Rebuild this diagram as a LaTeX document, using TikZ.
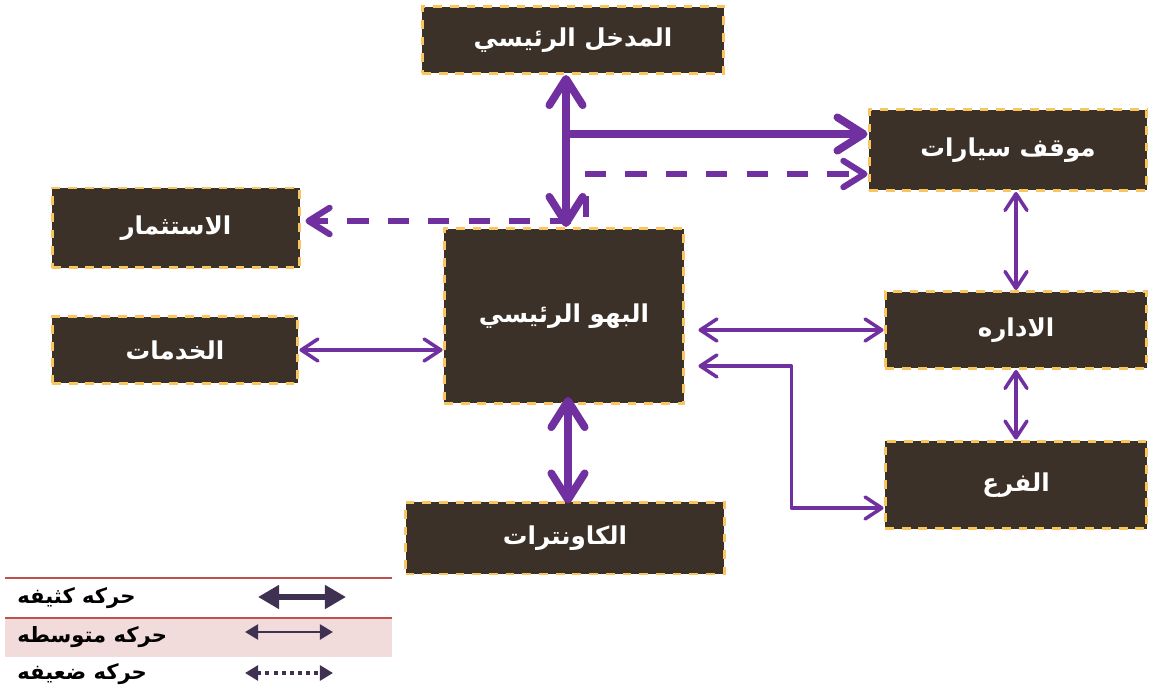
\documentclass[tikz,border=0pt]{standalone}
\usepackage{fontspec}
\usepackage{xcolor}
\usepackage{tikz}
\usetikzlibrary{arrows.meta, positioning}
\TeXXeTstate=1
\newfontfamily\arabicfont[Script=Arabic]{DejaVu Sans}
\definecolor{caixa}{HTML}{3B3128}
\definecolor{borda}{HTML}{F9C55E}
\definecolor{roxo}{HTML}{7030A0}
\definecolor{roxoesc}{HTML}{3F3151}
\definecolor{linha}{HTML}{C0504D}
\definecolor{faixa}{HTML}{F2DCDB}
\tikzset{
  sala/.style={draw=borda, line width=1.7pt, dash pattern=on 5pt off 4.5pt, fill=caixa, text=white, inner sep=0pt, font=\arabicfont\bfseries\fontsize{14}{16}\selectfont},
  forte/.style={roxo, line width=4.4pt, line cap=round, line join=round},
  media/.style={roxo, line width=2pt, line join=round},
  fraca/.style={roxo, line width=3.5pt, dash pattern=on 12pt off 11pt},
  pforte/.style={-{Straight Barb[length=15pt, width=19pt, round]}},
  pfortedupla/.style={{Straight Barb[length=15pt, width=19pt, round]}-{Straight Barb[length=15pt, width=19pt, round]}},
  pfraca/.style={-{Straight Barb[length=12pt, width=15pt, round]}},
  pmediadupla/.style={{Straight Barb[length=9.5pt, width=12.5pt, round]}-{Straight Barb[length=9.5pt, width=12.5pt, round]}},
  legenda/.style={anchor=west, inner sep=0pt, font=\arabicfont\bfseries\fontsize{12}{14}\selectfont}
}
\begin{document}
\begin{tikzpicture}[x=0.02cm, y=-0.02cm]
        \useasboundingbox (0,0) rectangle (1149,692);
        % Espacos
        \node[sala, minimum width=6.04cm, minimum height=1.34cm] (entrada) at (573,40) {\beginR المدخل الرئيسي\endR};
        \node[sala, minimum width=5.56cm, minimum height=1.62cm] (parque) at (1008,150) {\beginR موقف سيارات\endR};
        \node[sala, minimum width=4.96cm, minimum height=1.60cm] (invest) at (176,228) {\beginR الاستثمار\endR};
        \node[sala, minimum width=4.80cm, minimum height=3.50cm] (hall) at (564,316) {\beginR البهو الرئيسي\endR};
        \node[sala, minimum width=4.92cm, minimum height=1.34cm] (servicos) at (175,350) {\beginR الخدمات\endR};
        \node[sala, minimum width=5.24cm, minimum height=1.54cm] (admin) at (1016,330) {\beginR الاداره\endR};
        \node[sala, minimum width=5.24cm, minimum height=1.76cm] (ramo) at (1016,485) {\beginR الفرع\endR};
        \node[sala, minimum width=6.38cm, minimum height=1.44cm] (balcoes) at (565,538) {\beginR الكاونترات\endR};

        % Movimento forte
        \coordinate (j1) at (566,134);
        \draw[forte, pfortedupla] ([xshift=0.04cm]entrada.south -| hall.north) -- ([xshift=0.04cm]hall.north);
        \draw[forte, pforte] (j1) -- (j1 -| parque.west);
        \draw[forte, pfortedupla, shorten <=-0.16cm, shorten >=-0.06cm] ([xshift=0.08cm]hall.south) -- ([xshift=0.08cm]hall.south |- balcoes.north);

        % Movimento fraco
        \coordinate (t1) at (585,174);
        \coordinate (t2) at (586,196);
        \coordinate (t3) at (586,221);
        \draw[fraca, pfraca] (t1) -- (t1 -| parque.west);
        \draw[fraca, pfraca] (t2) -- (t3) -- ([xshift=0.08cm]t3 -| invest.east);

        % Movimento medio
        \draw[media, pmediadupla] (servicos.east) -- (servicos.east -| hall.west);
        \draw[media, pmediadupla] ([xshift=0.26cm]hall.east |- admin.west) -- (admin.west);
        \draw[media, pmediadupla] ([xshift=0.26cm,yshift=-1.0cm]hall.east) -- ++(1.86cm,0) |- ([yshift=-0.46cm]ramo.west);
        \draw[media, pmediadupla] (admin.north |- parque.south) -- (admin.north);
        \draw[media, pmediadupla] (admin.south) -- (ramo.north);

        % Legenda
        \fill[faixa] (5,619) rectangle (392,657);
        \draw[linha, line width=1.6pt] (5,578) -- (392,578);
        \draw[linha, line width=1.6pt] (5,618) -- (392,618);
        \node[legenda] (l1) at (17,598) {\beginR حركه كثيفه\endR};
        \node[legenda] (l2) at (17,637) {\beginR حركه متوسطه\endR};
        \node[legenda] (l3) at (17,674) {\beginR حركه ضعيفه\endR};
        \coordinate (a1) at (258,597);
        \coordinate (b1) at (346,597);
        \coordinate (a2) at (245,632);
        \coordinate (b2) at (333,632);
        \coordinate (a3) at (245,673);
        \coordinate (b3) at (333,673);
        \draw[roxoesc, line width=3.4pt, {Triangle[length=12pt, width=13pt]}-{Triangle[length=12pt, width=13pt]}] (a1) -- (b1);
        \draw[roxoesc, line width=1.7pt, {Triangle[length=7.5pt, width=8.5pt]}-{Triangle[length=7.5pt, width=8.5pt]}] (a2) -- (b2);
        \draw[roxoesc, line width=2pt, dash pattern=on 2.3pt off 2.3pt, {Triangle[length=7.5pt, width=8.5pt]}-{Triangle[length=7.5pt, width=8.5pt]}] (a3) -- (b3);
    \end{tikzpicture}
\end{document}
